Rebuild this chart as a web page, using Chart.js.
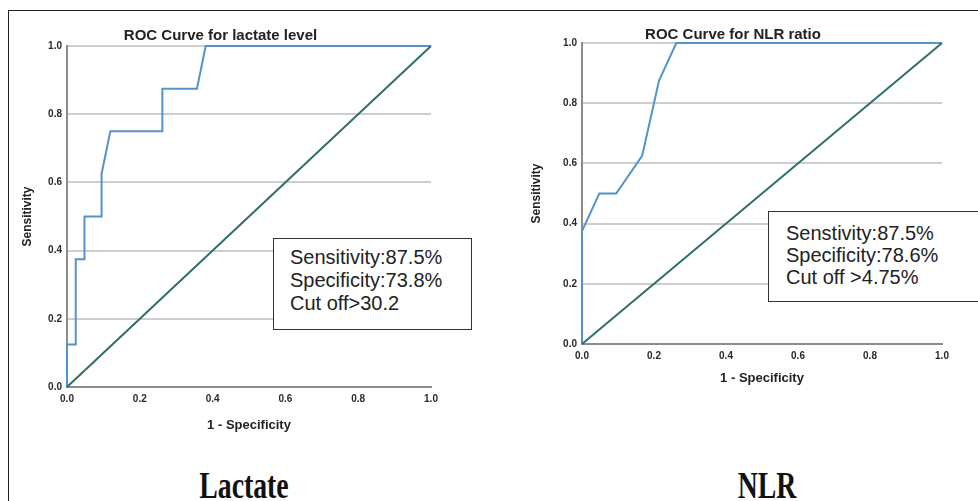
<!DOCTYPE html>
<html>
<head>
<meta charset="utf-8">
<script src="https://cdn.jsdelivr.net/npm/chart.js@4.4.1/dist/chart.umd.min.js"></script>
<style>
  html, body { margin: 0; padding: 0; background: #fff; }
  body { width: 978px; height: 501px; position: relative; overflow: hidden; font-family: "Liberation Sans", Arial, sans-serif; }
  .frame { position: absolute; left: 8px; top: 10px; width: 980px; height: 500px; border-left: 1.5px solid #222; border-top: 1.5px solid #222; }
  canvas { position: absolute; }
  .note { position: absolute; border: 1.5px solid #333; background: #fff; color: #222; font-size: 20px; box-sizing: border-box; }
  .caption { position: absolute; font-family: "Liberation Serif", "Times New Roman", serif; font-weight: bold; font-size: 38px; color: #111; transform: scaleX(0.73); transform-origin: center; white-space: nowrap; }
</style>
</head>
<body>
<div class="frame"></div>
<canvas id="lactateChart" width="436" height="432" style="left:10px; top:0px;"></canvas>
<canvas id="nlrChart" width="434" height="385" style="left:524px; top:0px;"></canvas>

<div class="note" style="left:273px; top:238px; width:199px; height:92px; padding:7px 0 0 16px; line-height:23px;">
  Sensitivity:87.5%<br>Specificity:73.8%<br>Cut off&gt;30.2
</div>
<div class="note" style="left:768px; top:211px; width:230px; height:91px; padding:10px 0 0 17px; line-height:22px;">
  Senstivity:87.5%<br>Specificity:78.6%<br>Cut off &gt;4.75%
</div>

<div class="caption" style="left:144px; top:463px; width:200px; text-align:center;">Lactate</div>
<div class="caption" style="left:667px; top:463px; width:200px; text-align:center;">NLR</div>

<script>
// ROC points: x = 1 - specificity, y = sensitivity
const lactateFpr = [0, 0, 0.024, 0.024, 0.048, 0.048, 0.095, 0.095, 0.119, 0.262, 0.262, 0.357, 0.381, 1];
const lactateTpr = [0, 0.125, 0.125, 0.375, 0.375, 0.5, 0.5, 0.625, 0.75, 0.75, 0.875, 0.875, 1, 1];

const nlrFpr = [0, 0, 0.048, 0.095, 0.167, 0.214, 0.262, 1];
const nlrTpr = [0, 0.375, 0.5, 0.5, 0.625, 0.875, 1, 1];

// reference line
const refX = [0, 1];
const refY = [0, 1];

const tickValues = [0, 0.2, 0.4, 0.6, 0.8, 1.0];

const Colors = {
    curve: '#5393cb',
    diagonal: '#2f6e6a',
    grid: '#cdcdcd',
    axis: '#8c8c8c',
    text: '#222'
};

function toPoints(xs, ys) {
    return xs.map((x, i) => ({ x: x, y: ys[i] }));
}

function makeRoc(id, opts) {
    const ctx = document.getElementById(id).getContext('2d');
    return new Chart(ctx, {
        type: 'scatter',
        data: {
            datasets: [
                {
                    data: toPoints(refX, refY),
                    showLine: true,
                    borderColor: Colors.diagonal,
                    borderWidth: 2,
                    pointRadius: 0,
                    clip: false
                },
                {
                    data: toPoints(opts.xs, opts.ys),
                    showLine: true,
                    borderColor: Colors.curve,
                    borderWidth: 2,
                    pointRadius: 0,
                    clip: false
                }
            ]
        },
        options: {
            responsive: false,
            animation: false,
            devicePixelRatio: 1,
            layout: { padding: { left: 0, right: opts.padRight, top: 0, bottom: 0 } },
            plugins: {
                legend: { display: false },
                tooltip: { enabled: false },
                title: {
                    display: true,
                    text: opts.title,
                    color: Colors.text,
                    font: { family: '"Liberation Sans", Arial, sans-serif', size: 15, weight: 'bold', lineHeight: 1 },
                    padding: { top: opts.titleTop, bottom: opts.titleBottom }
                }
            },
            scales: {
                x: {
                    type: 'linear',
                    min: 0,
                    max: 1,
                    afterBuildTicks: s => { s.ticks = tickValues.map(v => ({ value: v })); },
                    afterFit: s => { s.height = opts.xHeight; s.paddingLeft = 0; s.paddingRight = 0; },
                    grid: { display: false, drawTicks: false },
                    border: { display: true, color: Colors.axis, width: 2 },
                    ticks: {
                        padding: 6,
                        color: '#2a2a2a',
                        font: { family: '"Liberation Sans", Arial, sans-serif', size: 10, weight: 'bold' },
                        callback: v => v.toFixed(1),
                        maxRotation: 0
                    },
                    title: {
                        display: true,
                        text: '1 - Specificity',
                        color: Colors.text,
                        font: { family: '"Liberation Sans", Arial, sans-serif', size: 13, weight: 'bold', lineHeight: 1 },
                        padding: { top: 0, bottom: 0.5 }
                    }
                },
                y: {
                    type: 'linear',
                    min: 0,
                    max: 1,
                    afterBuildTicks: s => { s.ticks = tickValues.map(v => ({ value: v })); },
                    afterFit: s => { s.width = opts.yWidth; s.paddingTop = 0; s.paddingBottom = 0; },
                    grid: {
                        drawTicks: false,
                        lineWidth: 2,
                        color: c => (c.tick && c.tick.value === 0) ? 'rgba(0,0,0,0)' : Colors.grid
                    },
                    border: { display: true, color: Colors.axis, width: 2 },
                    ticks: {
                        padding: 5,
                        color: '#2a2a2a',
                        font: { family: '"Liberation Sans", Arial, sans-serif', size: 10, weight: 'bold' },
                        callback: v => v.toFixed(1)
                    },
                    title: {
                        display: true,
                        text: 'Sensitivity',
                        color: Colors.text,
                        font: { family: '"Liberation Sans", Arial, sans-serif', size: 12, weight: 'bold', lineHeight: 1 },
                        padding: { top: opts.yTitlePad, bottom: 0 }
                    }
                }
            }
        }
    });
}

makeRoc('lactateChart', {
    xs: lactateFpr, ys: lactateTpr,
    title: 'ROC Curve for lactate level',
    padRight: 15, titleTop: 28.5, titleBottom: 2.5,
    xHeight: 45, yWidth: 57, yTitlePad: 12
});

makeRoc('nlrChart', {
    xs: nlrFpr, ys: nlrTpr,
    title: 'ROC Curve for NLR ratio',
    padRight: 16, titleTop: 27.5, titleBottom: 0.5,
    xHeight: 41, yWidth: 58, yTitlePad: 7
});
</script>
</body>
</html>
